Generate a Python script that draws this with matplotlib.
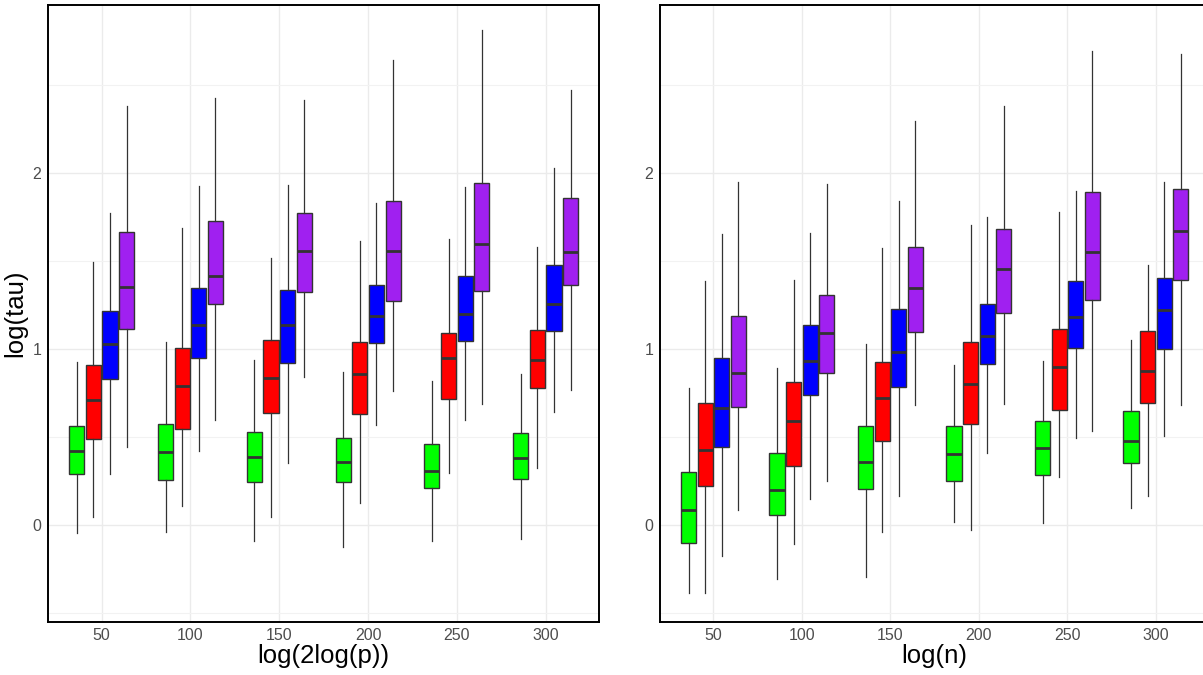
import matplotlib
matplotlib.use("Agg")
import matplotlib.pyplot as plt
from matplotlib.ticker import MultipleLocator, FixedLocator

plt.rcParams['font.family'] = ['Liberation Sans', 'DejaVu Sans']

# x categories shared by both panels
categories = [50, 100, 150, 200, 250, 300]
fill_colors = ['#00FF00', '#FF0000', '#0000FF', '#A020F0']

# Left panel: box statistics per colour group (green, red, blue, purple)
left_low = [[-0.042, -0.036, -0.089, -0.125, -0.091, -0.079],
            [0.045, 0.110, 0.047, 0.125, 0.297, 0.325],
            [0.289, 0.420, 0.354, 0.567, 0.599, 0.645],
            [0.446, 0.597, 0.841, 0.762, 0.686, 0.770]]
left_q1 = [[0.289, 0.257, 0.248, 0.246, 0.214, 0.263],
           [0.492, 0.546, 0.637, 0.630, 0.717, 0.779],
           [0.830, 0.949, 0.919, 1.032, 1.047, 1.100],
           [1.114, 1.255, 1.325, 1.270, 1.329, 1.361]]
left_med = [[0.423, 0.414, 0.386, 0.359, 0.308, 0.380],
            [0.711, 0.789, 0.838, 0.857, 0.949, 0.940],
            [1.027, 1.135, 1.138, 1.186, 1.201, 1.256],
            [1.354, 1.413, 1.554, 1.558, 1.596, 1.549]]
left_q3 = [[0.561, 0.573, 0.531, 0.497, 0.459, 0.522],
           [0.909, 1.004, 1.049, 1.038, 1.089, 1.107],
           [1.218, 1.346, 1.333, 1.365, 1.412, 1.475],
           [1.666, 1.726, 1.773, 1.843, 1.944, 1.860]]
left_high = [[0.926, 1.038, 0.938, 0.872, 0.819, 0.860],
             [1.494, 1.686, 1.516, 1.611, 1.624, 1.577],
             [1.772, 1.927, 1.932, 1.828, 1.919, 2.025],
             [2.382, 2.424, 2.414, 2.638, 2.810, 2.471]]

# Right panel
right_low = [[-0.382, -0.306, -0.295, 0.017, 0.013, 0.096],
             [-0.386, -0.106, -0.040, -0.025, 0.274, 0.167],
             [-0.174, 0.147, 0.168, 0.408, 0.493, 0.505],
             [0.087, 0.253, 0.681, 0.690, 0.537, 0.685]]
right_q1 = [[-0.102, 0.059, 0.206, 0.250, 0.287, 0.354],
            [0.221, 0.335, 0.476, 0.573, 0.656, 0.692],
            [0.442, 0.737, 0.785, 0.913, 1.008, 0.998],
            [0.671, 0.864, 1.095, 1.206, 1.280, 1.394]]
right_med = [[0.089, 0.202, 0.357, 0.407, 0.437, 0.478],
             [0.425, 0.590, 0.722, 0.804, 0.900, 0.874],
             [0.667, 0.932, 0.983, 1.076, 1.184, 1.219],
             [0.862, 1.091, 1.346, 1.452, 1.552, 1.668]]
right_q3 = [[0.301, 0.412, 0.565, 0.563, 0.590, 0.647],
            [0.694, 0.811, 0.926, 1.040, 1.114, 1.100],
            [0.949, 1.136, 1.227, 1.256, 1.386, 1.403],
            [1.186, 1.308, 1.582, 1.679, 1.889, 1.910]]
right_high = [[0.779, 0.892, 1.030, 0.909, 0.930, 1.049],
              [1.386, 1.392, 1.573, 1.703, 1.777, 1.475],
              [1.654, 1.656, 1.843, 1.747, 1.896, 1.951],
              [1.947, 1.936, 2.295, 2.382, 2.692, 2.674]]

DODGE = 0.1875
BOX_W = 0.17
EDGE = '#333333'


def draw_panel(ax, low, q1, med, q3, high, xlabel, ylabel=None, right_spine=True):
    n_groups = len(fill_colors)
    for g, color in enumerate(fill_colors):
        offset = (g - (n_groups - 1) / 2) * DODGE
        stats = []
        positions = []
        for i in range(len(categories)):
            stats.append(dict(whislo=low[g][i], q1=q1[g][i], med=med[g][i],
                              q3=q3[g][i], whishi=high[g][i], fliers=[]))
            positions.append(i + 1 + offset)
        ax.bxp(stats, positions=positions, widths=BOX_W, patch_artist=True,
               showcaps=False, showfliers=False,
               boxprops=dict(facecolor=color, edgecolor=EDGE, linewidth=1.0),
               medianprops=dict(color=EDGE, linewidth=2.0, solid_capstyle='butt'),
               whiskerprops=dict(color=EDGE, linewidth=0.9),
               manage_ticks=False, zorder=3)

    ax.set_xlim(0.4, 6.6)
    ax.set_ylim(-0.549, 2.951)
    ax.xaxis.set_major_locator(FixedLocator(range(1, len(categories) + 1)))
    ax.set_xticklabels([str(c) for c in categories])
    ax.yaxis.set_major_locator(FixedLocator([0, 1, 2]))
    ax.yaxis.set_minor_locator(FixedLocator([-0.5, 0.5, 1.5, 2.5]))
    ax.grid(True, which='major', color='#EBEBEB', linewidth=1.0, zorder=0)
    ax.grid(True, which='minor', axis='y', color='#F2F2F2', linewidth=0.8, zorder=0)
    ax.set_axisbelow(True)
    ax.tick_params(axis='both', which='both', length=0, labelsize=11.5,
                   labelcolor='#4D4D4D')
    ax.tick_params(axis='x', pad=4)
    ax.tick_params(axis='y', pad=5)
    for side in ['top', 'bottom', 'left', 'right']:
        ax.spines[side].set_color('black')
        ax.spines[side].set_linewidth(1.4)
    if not right_spine:
        ax.spines['right'].set_visible(False)
    ax.set_xlabel(xlabel, fontsize=18.5, color='black', labelpad=1)
    if ylabel:
        ax.set_ylabel(ylabel, fontsize=18.5, color='black', labelpad=4)


fig = plt.figure(figsize=(12.03, 6.75), dpi=100)
ax_left = fig.add_axes([48.4 / 1203, 53 / 675, 550.6 / 1203, 616.7 / 675])
ax_right = fig.add_axes([660.3 / 1203, 53 / 675, 548.7 / 1203, 616.7 / 675])

draw_panel(ax_left, left_low, left_q1, left_med, left_q3, left_high,
           'log(2log(p))', ylabel='log(tau)')
draw_panel(ax_right, right_low, right_q1, right_med, right_q3, right_high,
           'log(n)')

fig.savefig('out.png', dpi=100)
